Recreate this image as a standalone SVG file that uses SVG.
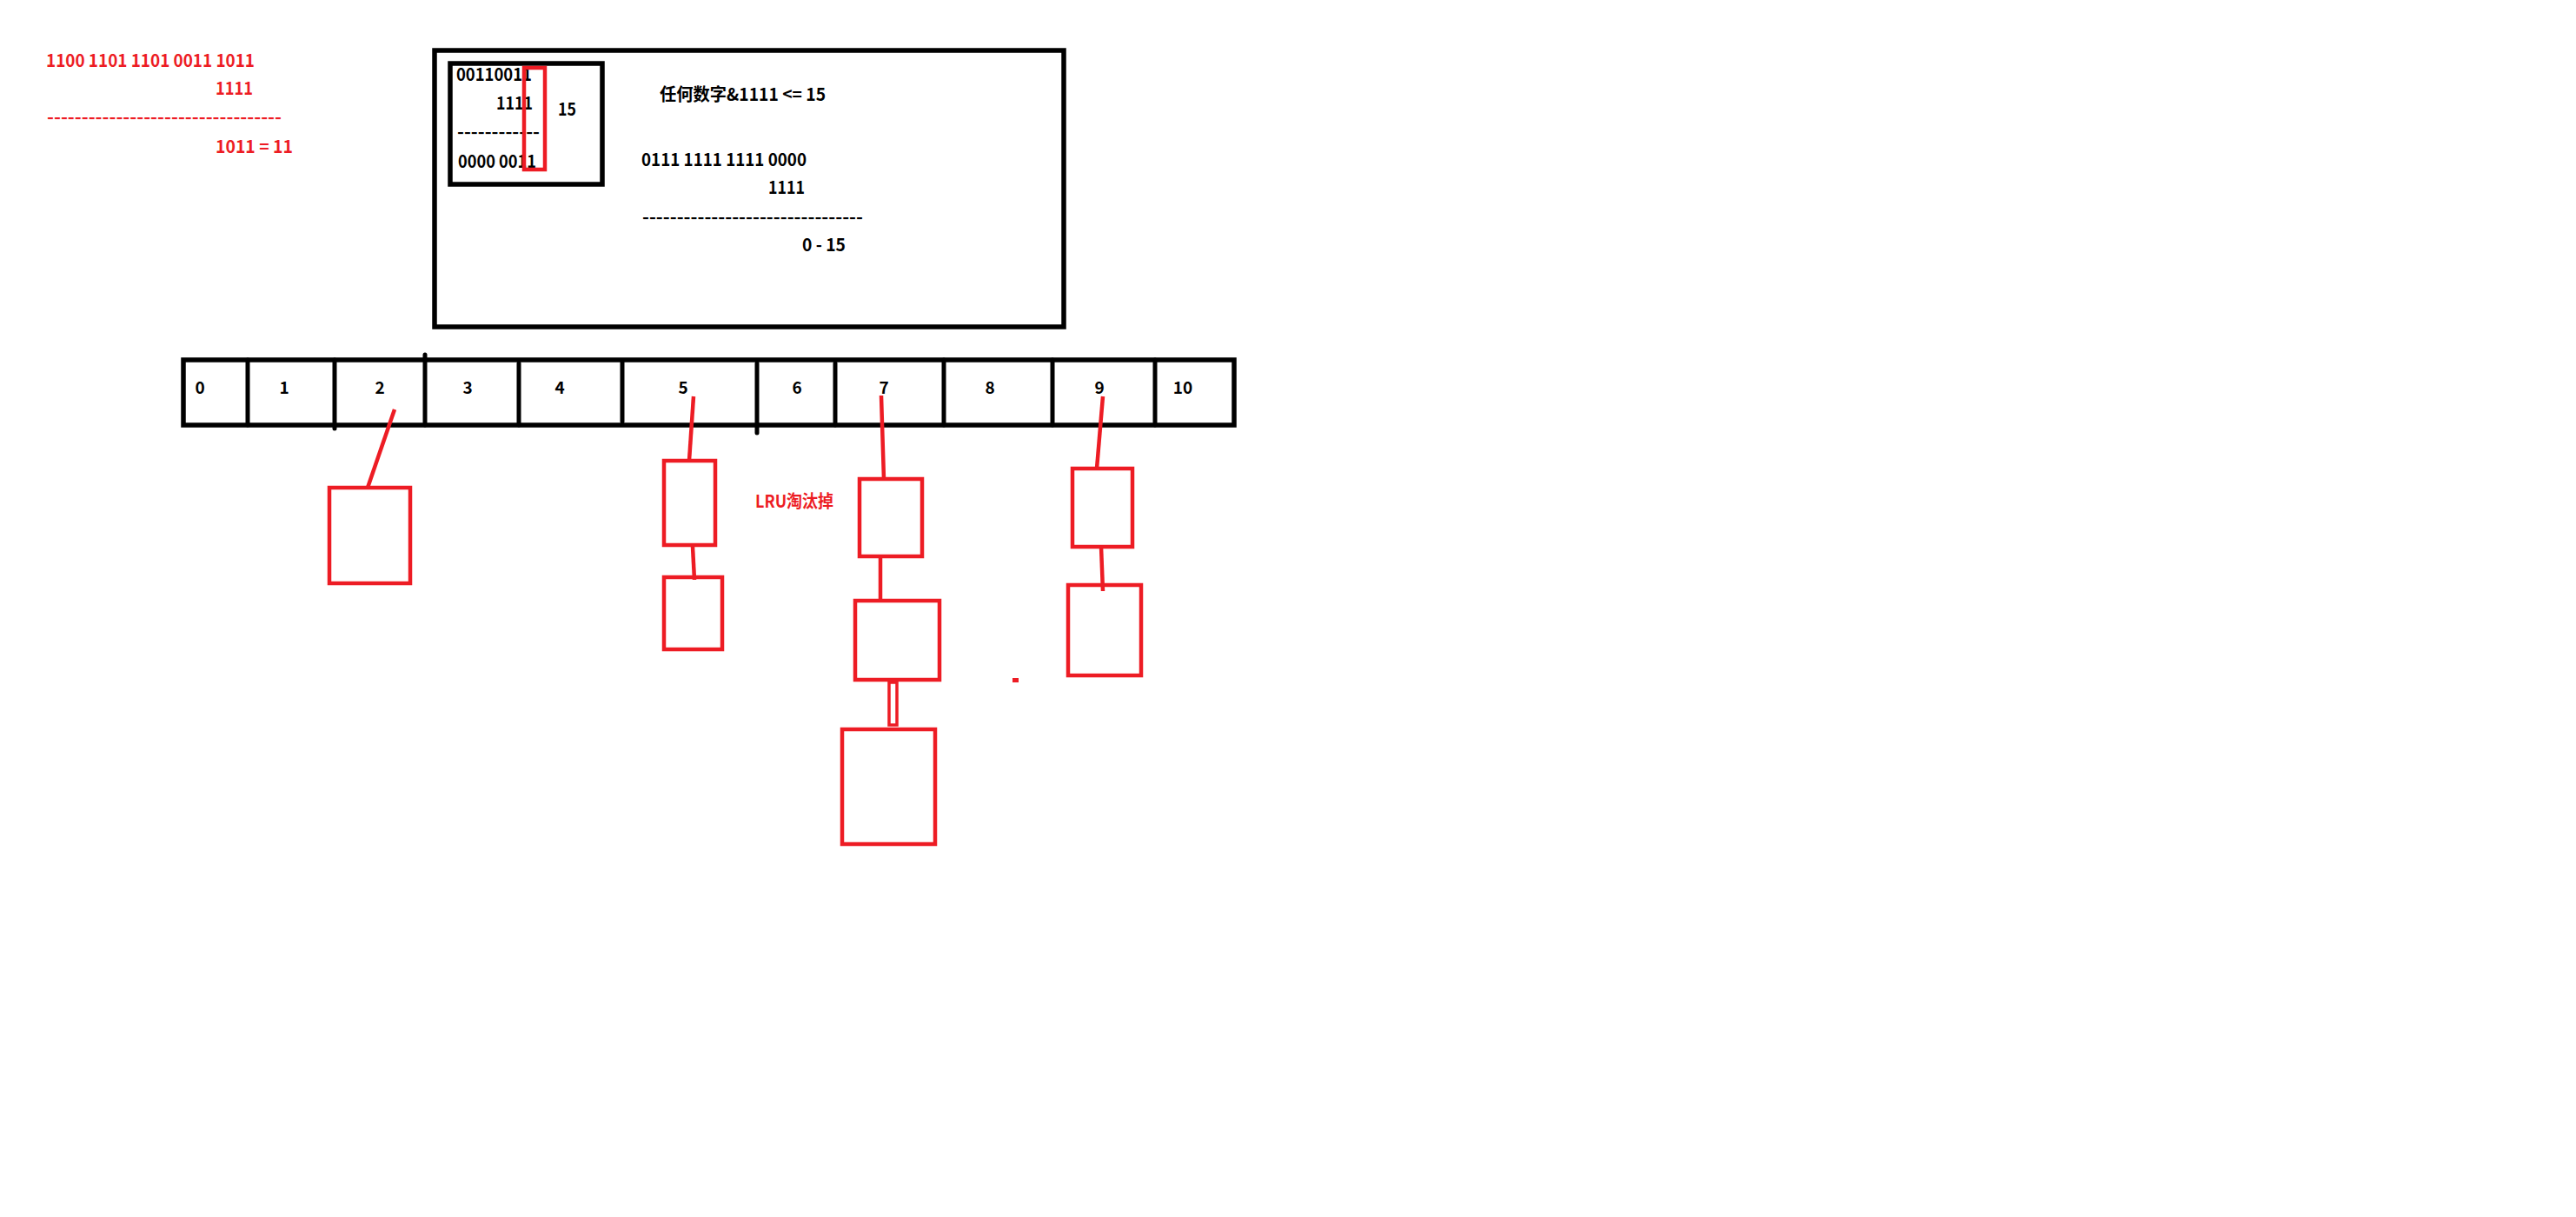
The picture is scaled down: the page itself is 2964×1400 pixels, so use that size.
<svg xmlns="http://www.w3.org/2000/svg" width="2964" height="1400" viewBox="0 0 2964 1400">
<style>
.t{font-family:"Noto Sans CJK SC","Noto Sans",sans-serif;font-weight:bold;font-size:20px}
.k{fill:#000}
.r{fill:#ED1C24}
.lbl{font-family:"Noto Sans CJK SC","Noto Sans",sans-serif;font-weight:bold;font-size:19px;fill:#000;text-anchor:middle}
.bk{fill:none;stroke:#000;stroke-width:5.5}
.bl{stroke:#000;stroke-width:5;stroke-linecap:round;fill:none}
.rb{fill:none;stroke:#ED1C24;stroke-width:4.5}
.rl{stroke:#ED1C24;stroke-width:4.5;fill:none}
</style>
<rect width="2964" height="1400" fill="#fff"/>
<g id="calc-left">
<text class="t r" x="53" y="77" textLength="240" lengthAdjust="spacingAndGlyphs">1100 1101 1101 0011 1011</text>
<text class="t r" x="248" y="109" textLength="43" lengthAdjust="spacingAndGlyphs">1111</text>
<text class="t r" x="54" y="142" textLength="270" lengthAdjust="spacingAndGlyphs">----------------------------------</text>
<text class="t r" x="248" y="176" textLength="89" lengthAdjust="spacingAndGlyphs">1011 = 11</text>
</g>
<g id="explain-box">
<rect class="bk" x="500" y="58" width="724" height="318"/>
<rect class="bk" x="518" y="73" width="175" height="139"/>
<text class="t k" x="525" y="93" textLength="87" lengthAdjust="spacingAndGlyphs">00110011</text>
<text class="t k" x="571" y="126" textLength="42" lengthAdjust="spacingAndGlyphs">1111</text>
<text class="t k" x="642" y="133" textLength="21" lengthAdjust="spacingAndGlyphs">15</text>
<text class="t k" x="526" y="159" textLength="95" lengthAdjust="spacingAndGlyphs">------------</text>
<text class="t k" x="527" y="193" textLength="90" lengthAdjust="spacingAndGlyphs">0000 0011</text>
<rect class="rb" x="603" y="78" width="24" height="117"/>
<text class="t k" x="759" y="116" textLength="191" lengthAdjust="spacingAndGlyphs">任何数字&amp;1111 &lt;= 15</text>
<text class="t k" x="738" y="191" textLength="190" lengthAdjust="spacingAndGlyphs">0111 1111 1111 0000</text>
<text class="t k" x="884" y="223" textLength="42" lengthAdjust="spacingAndGlyphs">1111</text>
<text class="t k" x="739" y="257" textLength="254" lengthAdjust="spacingAndGlyphs">--------------------------------</text>
<text class="t k" x="923" y="289" textLength="50" lengthAdjust="spacingAndGlyphs">0 - 15</text>
</g>
<g id="array">
<rect class="bk" x="211" y="414" width="1209" height="75"/>
<line class="bl" x1="285" y1="414" x2="285" y2="489"/>
<line class="bl" x1="385" y1="414" x2="385" y2="493"/>
<line class="bl" x1="489" y1="408" x2="489" y2="489"/>
<line class="bl" x1="597" y1="418" x2="597" y2="489"/>
<line class="bl" x1="716" y1="415" x2="716" y2="485"/>
<line class="bl" x1="871" y1="418" x2="871" y2="498"/>
<line class="bl" x1="961" y1="418" x2="961" y2="489"/>
<line class="bl" x1="1086" y1="414" x2="1086" y2="489"/>
<line class="bl" x1="1211" y1="414" x2="1211" y2="489"/>
<line class="bl" x1="1329" y1="414" x2="1329" y2="489"/>
<text class="lbl" x="230" y="453">0</text>
<text class="lbl" x="327" y="453">1</text>
<text class="lbl" x="437" y="453">2</text>
<text class="lbl" x="538" y="453">3</text>
<text class="lbl" x="644" y="453">4</text>
<text class="lbl" x="786" y="453">5</text>
<text class="lbl" x="917" y="453">6</text>
<text class="lbl" x="1017" y="453">7</text>
<text class="lbl" x="1139" y="453">8</text>
<text class="lbl" x="1265" y="453">9</text>
<text class="lbl" x="1361" y="453">10</text>
</g>
<g id="connectors">
<line class="rl" x1="454" y1="471" x2="423" y2="561"/>
<line class="rl" x1="798" y1="456" x2="793" y2="530"/>
<line class="rl" x1="797" y1="629" x2="799" y2="667"/>
<line class="rl" x1="1014" y1="455" x2="1017" y2="551"/>
<line class="rl" x1="1013" y1="640" x2="1013" y2="691"/>
<rect x="1023" y="785" width="9" height="49" fill="none" stroke="#ED1C24" stroke-width="3.5"/>
<line class="rl" x1="1269" y1="456" x2="1262" y2="539"/>
<line class="rl" x1="1267" y1="629" x2="1269" y2="680"/>
</g>
<g id="node-b2-1"><rect class="rb" x="379" y="561" width="93" height="110"/></g>
<g id="node-b5-1"><rect class="rb" x="764" y="530" width="59" height="97"/></g>
<g id="node-b5-2"><rect class="rb" x="764" y="664" width="67" height="83"/></g>
<g id="node-b7-1"><rect class="rb" x="989" y="551" width="72" height="89"/></g>
<g id="node-b7-2"><rect class="rb" x="984" y="691" width="97" height="91"/></g>
<g id="node-b7-3"><rect class="rb" x="969" y="839" width="107" height="132"/></g>
<g id="node-b9-1"><rect class="rb" x="1234" y="539" width="69" height="90"/></g>
<g id="node-b9-2"><rect class="rb" x="1229" y="673" width="84" height="104"/></g>
<g id="lru-label"><text class="t r" x="869" y="584" textLength="90" lengthAdjust="spacingAndGlyphs">LRU淘汰掉</text></g>
<rect x="1165" y="780" width="7" height="5" fill="#ED1C24"/>
</svg>
